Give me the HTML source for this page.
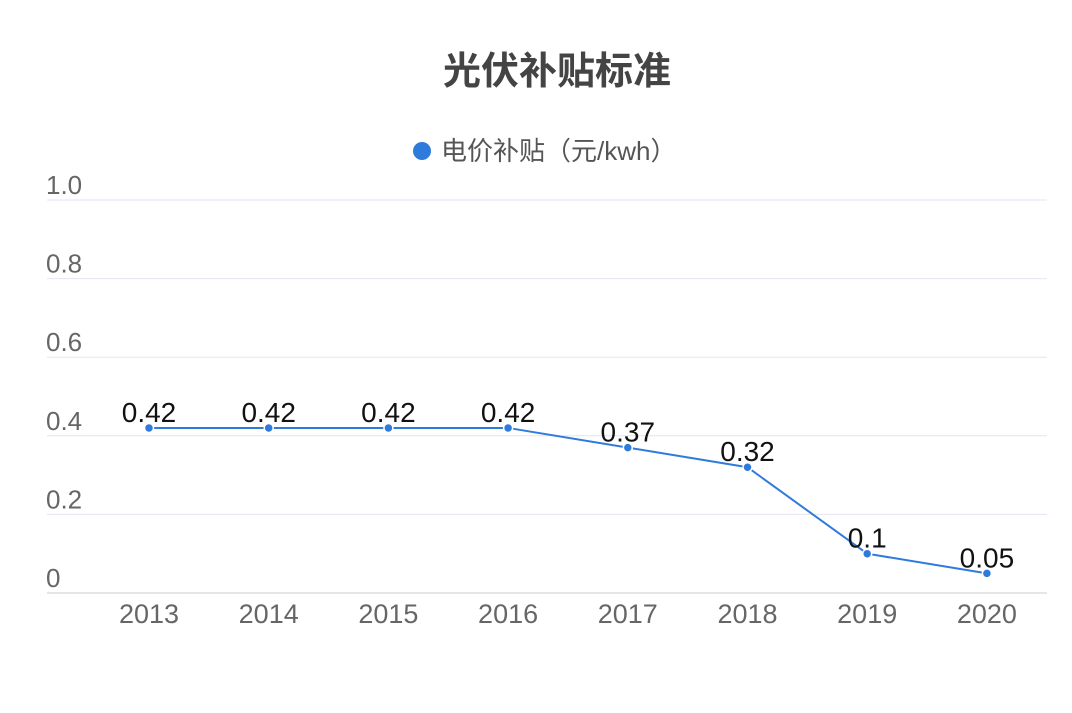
<!DOCTYPE html>
<html><head><meta charset="utf-8"><style>
body{margin:0;background:#fff;width:1072px;height:708px;overflow:hidden}
svg{font-family:"Liberation Sans","Noto Sans CJK SC",sans-serif}
</style></head><body>
<svg id="chart" width="1072" height="708">
<text x="557" y="84" text-anchor="middle" font-size="38" font-weight="bold" fill="#444">光伏补贴标准</text>
<g>
<circle cx="422" cy="151" r="9" fill="#2f7bdc"/>
<text x="441" y="160" font-size="26" fill="#555">电价补贴（元/kwh）</text>
</g>
<g id="grid"></g><g id="xl"></g><g id="series"></g>
</svg>
<script>
const categories=["2013","2014","2015","2016","2017","2018","2019","2020"];
const values=[0.42,0.42,0.42,0.42,0.37,0.32,0.1,0.05];
const yTicks=[0,0.2,0.4,0.6,0.8,1.0];
const yTickLabels=["0","0.2","0.4","0.6","0.8","1.0"];
const NS="http://www.w3.org/2000/svg";
const y=v=>593-v*393;
const x=i=>149+i*119.7;
function mk(t,a,p){const e=document.createElementNS(NS,t);for(const k in a)e.setAttribute(k,a[k]);p.appendChild(e);return e;}
const g=document.getElementById('grid');
yTicks.forEach((t,i)=>{
const l=mk('line',{x1:47,x2:1047,y1:y(t),y2:y(t),stroke:i==0?'#ccc':'#e6e3f5','stroke-width':1},g);


const tx=mk('text',{x:46,y:y(t)-6,'font-size':26,fill:'#666'},g);
tx.textContent=yTickLabels[i];


});
const xl=document.getElementById('xl');
categories.forEach((c,i)=>{
const t=mk('text',{x:x(i),y:623,'font-size':27,fill:'#666','text-anchor':'middle'},xl);
t.textContent=c;


});
const s=document.getElementById('series');
const pl=mk('polyline',{points:values.map((v,i)=>x(i)+','+y(v)).join(' '),fill:'none',stroke:'#2f7bdc','stroke-width':2},s);


values.forEach((v,i)=>{
const c=mk('circle',{cx:x(i),cy:y(v),r:4.5,fill:'#2f7bdc',stroke:'#fff','stroke-width':1.5},s);


const t=mk('text',{x:x(i),y:y(v)-6,'font-size':28,fill:'#111','text-anchor':'middle'},s);
t.textContent=String(v);


});
</script>
</body></html>
